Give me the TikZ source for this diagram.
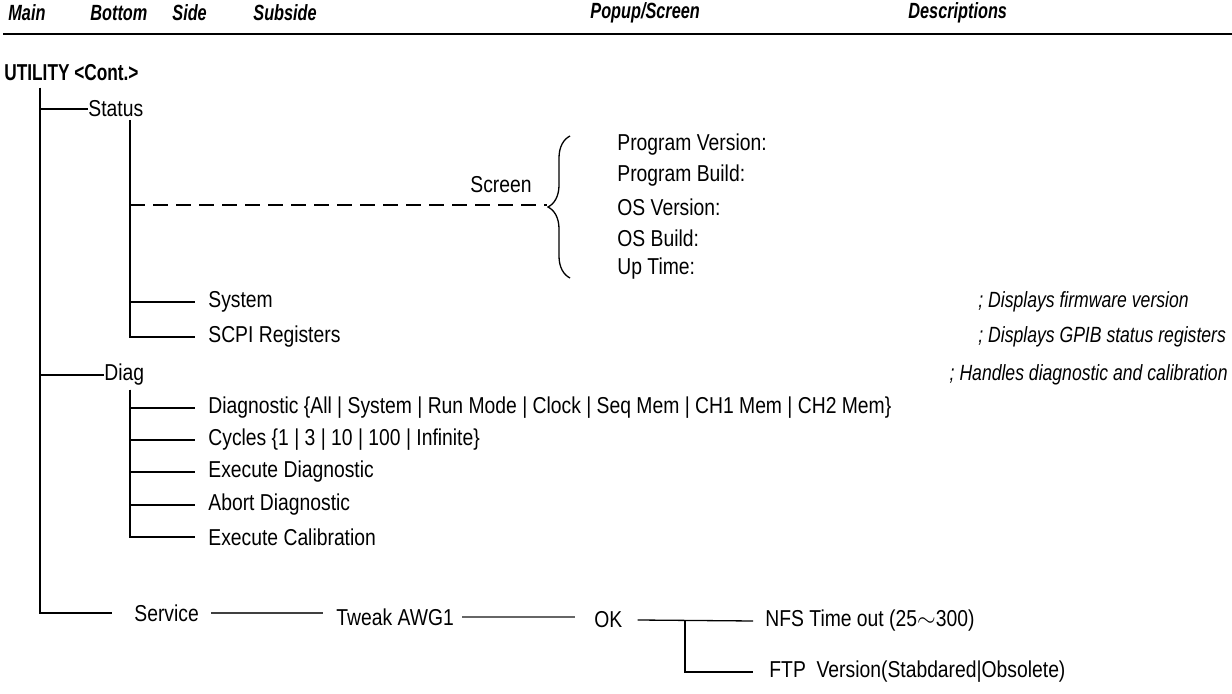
\documentclass[tikz,border=0pt]{standalone}
\usepackage{fontspec}
\setmainfont{Liberation Sans}[FakeStretch=0.84]
\newfontfamily\headfamily{Liberation Sans}[FakeStretch=0.74]
\newfontfamily\rootfamily{Liberation Sans}[FakeStretch=0.75]
\newfontfamily\notefamily{Liberation Sans}[FakeStretch=0.8]
\usetikzlibrary{decorations.pathreplacing, calc}

\newcommand\headfont{\headfamily\fontsize{11}{13}\selectfont\bfseries\itshape}
\newcommand\itemfont{\fontsize{11.5}{13}\selectfont}
\newcommand\notefont{\notefamily\fontsize{11}{13}\selectfont\itshape}
\newcommand\rootfont{\rootfamily\fontsize{11.5}{13}\selectfont\bfseries}

\begin{document}
\begin{tikzpicture}[x=0.5pt, y=-0.5pt,
    head/.style={anchor=west, inner sep=0pt, font=\headfont},
    item/.style={anchor=west, inner sep=0pt, font=\itemfont},
    note/.style={anchor=west, inner sep=0pt, font=\notefont},
    tree/.style={line width=0.65pt},
    forkline/.style={line width=1.1pt}]
    % 1 unit = 1 px of the 1232 x 694 sheet, y grows downwards
    \useasboundingbox (0,0) rectangle (1232,694);

    % Column headings
    \node[head] (hmain) at (8,13) {Main};
    \node[head] (hbottom) at (90,13) {Bottom};
    \node[head] (hside) at (172,13) {Side};
    \node[head] (hsub) at (253,13) {Subside};
    \node[head] (hpop) at (590,13) {Popup/Screen};
    \node[head] (hdesc) at (908,13) {Descriptions};
    \draw[line width=1.2pt] (3,34) -- (1232,34);

    % Root and main trunk
    \node[anchor=west, inner sep=0pt, font=\rootfont] (util) at (4,73) {UTILITY <Cont.>};
    \coordinate (trunk) at (40,88);
    \node[item] (status) at (88,109) {Status};
    \node[item] (diag) at (104,375) {Diag};
    \node[item] (service) at (134,613) {Service};
    \draw[tree] (trunk) |- (status.west);
    \draw[tree] (trunk) |- (diag.west);
    \draw[tree] (trunk) |- ([xshift=-11pt]service.west);

    % Status branch
    \coordinate (stk) at (130,120);
    \node[item] (system) at (208,302) {System};
    \node[item] (scpi) at (208,337) {SCPI Registers};
    \draw[tree] (stk) |- ([xshift=-6.5pt]system.west);
    \draw[tree] (stk) |- ([xshift=-6.5pt]scpi.west);

    % Screen popup with its brace
    \node[item] (screen) at (470,185) {Screen};
    \coordinate (tip) at (547,205);
    \draw[tree, dash pattern=on 7.5pt off 4pt] (stk |- tip) -- (tip);
    \draw[tree, decorate, decoration={brace, amplitude=11pt}] (570,278) -- (570,136);
    \node[item] (pop1) at (617,145) {Program Version:};
    \node[item] (pop2) at (617,176) {Program Build:};
    \node[item] (pop3) at (617,207) {OS Version:};
    \node[item] (pop4) at (617,238) {OS Build:};
    \node[item] (pop5) at (617,269) {Up Time:};

    % Descriptions
    \node[note] (dsys) at (978,302) {; Displays firmware version};
    \node[note] (dscpi) at (978,337) {; Displays GPIB status registers};
    \node[note, anchor=east] (ddiag) at (1228,375) {; Handles diagnostic and calibration};

    % Diag branch
    \coordinate (dtk) at (130,390);
    \node[item] (dg1) at (208,408) {Diagnostic \{All | System | Run Mode | Clock | Seq Mem | CH1 Mem | CH2 Mem\}};
    \node[item] (dg2) at (208,440) {Cycles \{1 | 3 | 10 | 100 | Infinite\}};
    \node[item] (dg3) at (208,472) {Execute Diagnostic};
    \node[item] (dg4) at (208,505) {Abort Diagnostic};
    \node[item] (dg5) at (208,537) {Execute Calibration};
    \foreach \i in {1,...,5}
        \draw[tree] (dtk) |- ([xshift=-6.5pt]dg\i.west);

    % Service chain
    \node[item] (tweak) at (336,617) {Tweak AWG1};
    \node[item] (ok) at (594,620) {OK};
    \node[item] (nfs) at (765,621) {NFS Time out (25$\sim$300)};
    \node[item] (ftp) at (769,672) {FTP\ \ Version(Stabdared|Obsolete)};
    \draw[tree, black!75] ([xshift=6pt]service.east) -- ([xshift=-6.5pt]service.east -| tweak.west);
    \draw[tree, black!60] ([xshift=4pt]tweak.east) -- ([xshift=-9.5pt]tweak.east -| ok.west);
    \coordinate (fork) at (685,621);
    \draw[tree] ([xshift=7.5pt]ok.east) -- ([xshift=-6pt]nfs.west);
    \draw[forkline] (fork) |- ([xshift=-8pt]ftp.west);
\end{tikzpicture}
\end{document}
